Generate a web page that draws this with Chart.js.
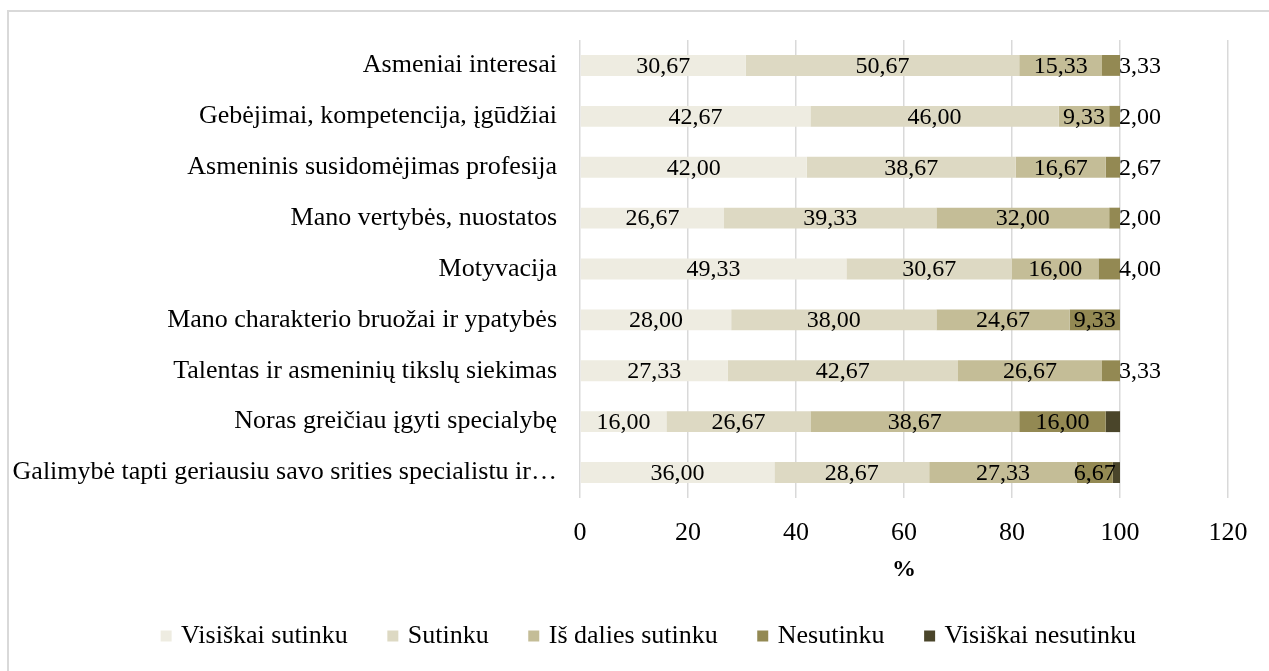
<!DOCTYPE html>
<html>
<head>
<meta charset="utf-8">
<script src="https://cdn.jsdelivr.net/npm/chart.js@4/dist/chart.umd.min.js"></script>
<style>
  html, body { margin: 0; padding: 0; background: #fff; }
  #wrap { position: relative; width: 1269px; height: 671px; }
  #frame { position: absolute; left: 7px; top: 10px; width: 1270px; height: 670px;
           border-left: 2px solid #d9d9d9; border-top: 2px solid #d9d9d9; box-sizing: border-box; }
  canvas { position: absolute; left: 0; top: 0; }
</style>
</head>
<body>
<div id="wrap">
  <div id="frame"></div>
  <canvas id="chart" width="1269" height="671"></canvas>
</div>
<script>
const categories = [
    "Asmeniai interesai",
    "Gebėjimai, kompetencija, įgūdžiai",
    "Asmeninis susidomėjimas profesija",
    "Mano vertybės, nuostatos",
    "Motyvacija",
    "Mano charakterio bruožai ir ypatybės",
    "Talentas ir asmeninių tikslų siekimas",
    "Noras greičiau įgyti specialybę",
    "Galimybė tapti geriausiu savo srities specialistu ir…"
];
const visiskai_sutinku = [30.67, 42.67, 42.00, 26.67, 49.33, 28.00, 27.33, 16.00, 36.00];
const sutinku = [50.67, 46.00, 38.67, 39.33, 30.67, 38.00, 42.67, 26.67, 28.67];
const is_dalies_sutinku = [15.33, 9.33, 16.67, 32.00, 16.00, 24.67, 26.67, 38.67, 27.33];
const nesutinku = [3.33, 2.00, 2.67, 2.00, 4.00, 9.33, 3.33, 16.00, 6.67];
const visiskai_nesutinku = [0, 0, 0, 0, 0, 0, 0, 2.67, 1.33];
const series_names = ["Visiškai sutinku", "Sutinku", "Iš dalies sutinku", "Nesutinku", "Visiškai nesutinku"];
const x_ticks = [0, 20, 40, 60, 80, 100, 120];

const colors = ["#eeece1", "#ddd9c3", "#c4bd97", "#938953", "#4a452a"];
const font_family = "'Liberation Serif', 'Times New Roman', serif";

const series = [visiskai_sutinku, sutinku, is_dalies_sutinku, nesutinku, visiskai_nesutinku];

// data labels, comma decimals; the darkest series has none
const value_labels = {
    id: "value_labels",
    afterDatasetsDraw(chart) {
        const ctx = chart.ctx;
        ctx.save();
        ctx.font = "24px " + font_family;
        ctx.fillStyle = "#000";
        ctx.textBaseline = "middle";
        chart.data.datasets.forEach((ds, di) => {
            if (di === 4) return;
            const meta = chart.getDatasetMeta(di);
            meta.data.forEach((bar, i) => {
                const v = ds.data[i];
                if (!v) return;
                const p = bar.getProps(["x", "base", "y"], true);
                const txt = v.toFixed(2).replace(".", ",");
                if (v < 5) {
                    ctx.textAlign = "left";
                    ctx.fillText(txt, p.x - 1, p.y + 1);
                } else {
                    ctx.textAlign = "center";
                    ctx.fillText(txt, (p.x + p.base) / 2, p.y + 1);
                }
            });
        });
        ctx.restore();
    }
};

// move the legend a bit right, it is centred on the whole width in the original
const legend_shift = {
    id: "legend_shift",
    afterLayout(chart) {
        if (chart.legend) {
            chart.legend.left += 36;
            chart.legend.right += 36;
        }
    }
};

const draw_chart = () => {
    const ctx = document.getElementById("chart");
    new Chart(ctx, {
        type: "bar",
        data: {
            labels: categories,
            datasets: series.map((d, i) => ({
                label: series_names[i],
                data: d,
                backgroundColor: colors[i],
                borderWidth: 0,
                barPercentage: 0.41,
                categoryPercentage: 1.0
            }))
        },
        options: {
            indexAxis: "y",
            responsive: false,
            animation: false,
            layout: { padding: { top: 40, right: 41, bottom: 12, left: 0 } },
            plugins: {
                tooltip: { enabled: false },
                legend: {
                    position: "bottom",
                    labels: {
                        color: "#000",
                        font: { family: font_family, size: 26 },
                        usePointStyle: true,
                        pointStyle: "rect",
                        boxWidth: 4,
                        boxHeight: 11,
                        padding: 43
                    }
                }
            },
            scales: {
                x: {
                    stacked: true,
                    min: 0,
                    max: 120,
                    afterBuildTicks: (scale) => { scale.ticks = x_ticks.map(v => ({ value: v })); },
                    grid: { color: "#d9d9d9", lineWidth: 1.5, drawTicks: false },
                    border: { display: false },
                    ticks: {
                        color: "#000",
                        font: { family: font_family, size: 26 },
                        padding: 20
                    },
                    title: {
                        display: true,
                        text: "%",
                        color: "#000",
                        font: { family: font_family, size: 24, weight: "bold" },
                        padding: { top: 0, bottom: -4 }
                    },
                    afterFit: (scale) => { scale.height = 82; }
                },
                y: {
                    stacked: true,
                    grid: { display: false, drawTicks: false },
                    border: { display: false },
                    ticks: {
                        color: "#000",
                        font: { family: font_family, size: 26 },
                        padding: 23,
                        autoSkip: false
                    },
                    afterFit: (scale) => { scale.width = 580; }
                }
            }
        },
        plugins: [value_labels, legend_shift]
    });
};

draw_chart();
</script>
</body>
</html>
